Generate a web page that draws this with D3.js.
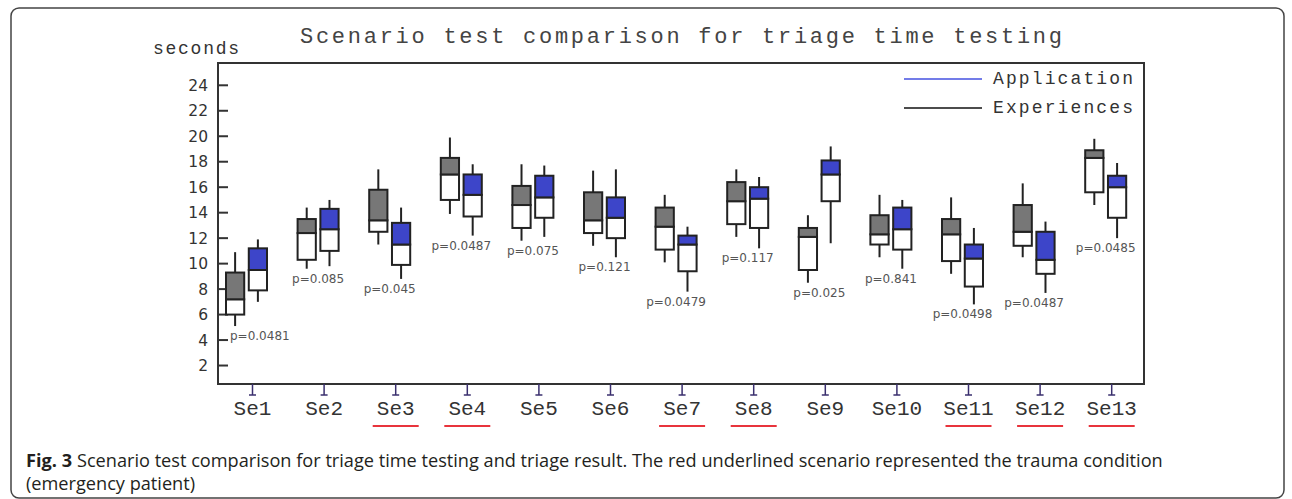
<!DOCTYPE html>
<html>
<head>
<meta charset="utf-8">
<script src="https://cdn.jsdelivr.net/npm/d3@7"></script>
<style>
  body { margin: 0; background: #fff; }
</style>
</head>
<body>
<div id="root"></div>
<script>
const w = 1292;
const h = 499;

// scenario names, trauma flag (red underline), p-values
const scenarios = ["Se1", "Se2", "Se3", "Se4", "Se5", "Se6", "Se7", "Se8", "Se9", "Se10", "Se11", "Se12", "Se13"];
const trauma = [false, false, true, true, false, false, true, true, false, false, true, true, true];
const pValues = ["0.0481", "0.085", "0.045", "0.0487", "0.075", "0.121", "0.0479", "0.117", "0.025", "0.841", "0.0498", "0.0487", "0.0485"];

// [whisker low, box low, median, box high, whisker high] in seconds
const experiences = [
  [5.1, 6.0, 7.2, 9.3, 10.9],
  [9.6, 10.3, 12.4, 13.5, 14.4],
  [11.5, 12.5, 13.4, 15.8, 17.4],
  [13.9, 15.0, 17.0, 18.3, 19.9],
  [11.8, 12.8, 14.6, 16.1, 17.8],
  [11.4, 12.4, 13.4, 15.6, 17.3],
  [10.1, 11.1, 12.9, 14.4, 15.4],
  [12.1, 13.1, 14.9, 16.4, 17.4],
  [8.5, 9.5, 12.1, 12.8, 13.8],
  [10.5, 11.5, 12.3, 13.8, 15.4],
  [9.2, 10.2, 12.3, 13.5, 15.2],
  [10.5, 11.4, 12.5, 14.6, 16.3],
  [14.6, 15.6, 18.3, 18.9, 19.8],
];
const application = [
  [7.0, 7.9, 9.5, 11.2, 11.9],
  [9.8, 11.0, 12.7, 14.3, 15.0],
  [8.8, 9.9, 11.5, 13.2, 14.4],
  [12.2, 13.7, 15.4, 17.0, 17.8],
  [12.1, 13.6, 15.2, 16.9, 17.7],
  [10.5, 12.0, 13.6, 15.2, 17.4],
  [7.8, 9.4, 11.5, 12.2, 12.9],
  [11.2, 12.8, 15.1, 16.0, 16.8],
  [11.6, 14.9, 17.0, 18.1, 19.2],
  [9.6, 11.1, 12.7, 14.4, 15.0],
  [6.8, 8.2, 10.4, 11.5, 12.8],
  [7.7, 9.2, 10.3, 12.5, 13.3],
  [12.0, 13.6, 16.0, 16.9, 17.9],
];
const yTicks = [2, 4, 6, 8, 10, 12, 14, 16, 18, 20, 22, 24];

const plotLeft = 218;
const plotRight = 1144;
const plotTop = 63;
const plotBottom = 384;

const mono = "'Courier New', 'Liberation Mono', monospace";
const sans = "'DejaVu Sans', Verdana, sans-serif";
const capFont = "'Open Sans', 'Noto Sans', sans-serif";

const svg = d3
  .select("#root")
  .append("svg")
  .attr("width", w)
  .attr("height", h);

svg
  .append("rect")
  .attr("x", 11)
  .attr("y", 8)
  .attr("width", 1273)
  .attr("height", 490)
  .attr("rx", 8)
  .attr("fill", "#fff")
  .attr("stroke", "#444")
  .attr("stroke-width", 1.5);

const yScale = d3.scaleLinear().domain([0.55, 25.75]).range([plotBottom, plotTop]);
const xScale = d3.scalePoint().domain(scenarios).range([252.5, 1111.7]);
const groupScale = d3
  .scaleBand()
  .domain(["Experiences", "Application"])
  .range([-26.5, 14.5])
  .paddingInner(0.2);
const boxW = groupScale.bandwidth();

// title and unit
svg
  .append("text")
  .attr("x", 681)
  .attr("y", 43)
  .attr("text-anchor", "middle")
  .attr("font-family", mono)
  .attr("font-size", 22)
  .attr("fill", "#444")
  .attr("textLength", 762)
  .attr("lengthAdjust", "spacing")
  .text("Scenario test comparison for triage time testing");

svg
  .append("text")
  .attr("x", 153)
  .attr("y", 54)
  .attr("font-family", mono)
  .attr("font-size", 18)
  .attr("fill", "#333")
  .attr("textLength", 86)
  .attr("lengthAdjust", "spacing")
  .text("seconds");

// plot frame
svg
  .append("rect")
  .attr("x", plotLeft)
  .attr("y", plotTop)
  .attr("width", plotRight - plotLeft)
  .attr("height", plotBottom - plotTop)
  .attr("fill", "none")
  .attr("stroke", "#333")
  .attr("stroke-width", 2);

// y axis
const yAxis = svg.append("g").attr("id", "y-axis");
yAxis
  .selectAll("line")
  .data(yTicks)
  .join("line")
  .attr("x1", plotLeft)
  .attr("x2", plotLeft + 10)
  .attr("y1", (d) => yScale(d))
  .attr("y2", (d) => yScale(d))
  .attr("stroke", "#333")
  .attr("stroke-width", 2);
yAxis
  .selectAll("text")
  .data(yTicks)
  .join("text")
  .attr("x", 208)
  .attr("y", (d) => yScale(d))
  .attr("dy", "0.36em")
  .attr("text-anchor", "end")
  .attr("font-family", sans)
  .attr("font-size", 15.5)
  .attr("fill", "#333")
  .text((d) => d);

// x axis
const xAxis = svg.append("g").attr("id", "x-axis");
const xt = xAxis
  .selectAll("g")
  .data(scenarios)
  .join("g")
  .attr("transform", (d) => `translate(${xScale(d)},${plotBottom})`);
xt.append("line")
  .attr("y1", 0)
  .attr("y2", 11)
  .attr("stroke", "#3a2f6e")
  .attr("stroke-width", 1.5);
xt.append("line")
  .attr("x1", -3.5)
  .attr("x2", 3.5)
  .attr("y1", 11)
  .attr("y2", 11)
  .attr("stroke", "#3a2f6e")
  .attr("stroke-width", 1.5);
xt.append("text")
  .attr("y", 31)
  .attr("text-anchor", "middle")
  .attr("font-family", mono)
  .attr("font-size", 21)
  .attr("fill", "#333")
  .text((d) => d);
xt.filter((d, i) => trauma[i])
  .append("line")
  .attr("x1", -23)
  .attr("x2", 23)
  .attr("y1", 42)
  .attr("y2", 42)
  .attr("stroke", "#e8343c")
  .attr("stroke-width", 2);

// boxes
function drawBoxes(data, group, fill) {
  const g = svg
    .append("g")
    .selectAll("g")
    .data(data)
    .join("g")
    .attr("transform", (d, i) => `translate(${xScale(scenarios[i]) + groupScale(group)},0)`);

  g.append("line")
    .attr("x1", boxW / 2)
    .attr("x2", boxW / 2)
    .attr("y1", (d) => yScale(d[0]))
    .attr("y2", (d) => yScale(d[4]))
    .attr("stroke", "#222")
    .attr("stroke-width", 2);
  g.append("rect")
    .attr("width", boxW)
    .attr("y", (d) => yScale(d[2]))
    .attr("height", (d) => yScale(d[1]) - yScale(d[2]))
    .attr("fill", "#fff")
    .attr("stroke", "#222")
    .attr("stroke-width", 2);
  g.append("rect")
    .attr("width", boxW)
    .attr("y", (d) => yScale(d[3]))
    .attr("height", (d) => yScale(d[2]) - yScale(d[3]))
    .attr("fill", fill)
    .attr("stroke", "#222")
    .attr("stroke-width", 2);
}

drawBoxes(experiences, "Experiences", "#777");
drawBoxes(application, "Application", "#3d45c9");

// p-values under each pair, kept clear of the y-axis ticks
svg
  .append("g")
  .selectAll("text")
  .data(pValues)
  .join("text")
  .attr("x", (d, i) => xScale(scenarios[i]) - 6)
  .attr("y", (d, i) => yScale(Math.min(experiences[i][0], application[i][0])) + 14)
  .attr("text-anchor", "middle")
  .attr("font-family", sans)
  .attr("font-size", 12)
  .attr("fill", "#555")
  .text((d) => `p=${d}`)
  .each(function () {
    const t = d3.select(this);
    const half = this.getComputedTextLength() / 2;
    const x = +t.attr("x");
    if (x - half < plotLeft + 12) t.attr("x", plotLeft + 12 + half);
  });

// legend
const legend = svg.append("g").attr("transform", "translate(904,79)");
const legendItems = [
  { name: "Application", color: "#4450e0" },
  { name: "Experiences", color: "#111" },
];
const li = legend
  .selectAll("g")
  .data(legendItems)
  .join("g")
  .attr("transform", (d, i) => `translate(0,${i * 29})`);
li.append("line")
  .attr("x1", 0)
  .attr("x2", 78)
  .attr("stroke", (d) => d.color)
  .attr("stroke-width", 1.5);
li.append("text")
  .attr("x", 89)
  .attr("y", 5)
  .attr("font-family", mono)
  .attr("font-size", 18)
  .attr("fill", "#333")
  .attr("textLength", 140)
  .attr("lengthAdjust", "spacing")
  .text((d) => d.name);

// caption: bold figure number, then the text, fitted to the figure width
const capSize = 16;
const capBold = svg
  .append("text")
  .attr("x", 26)
  .attr("y", 466.5)
  .attr("font-family", capFont)
  .attr("font-size", capSize)
  .attr("font-weight", "bold")
  .attr("fill", "#231f20")
  .text("Fig. 3");
const capRest = svg
  .append("text")
  .attr("y", 466.5)
  .attr("font-family", capFont)
  .attr("font-size", capSize)
  .attr("fill", "#231f20")
  .text("Scenario test comparison for triage time testing and triage result. The red underlined scenario represented the trauma condition");
const cap2 = svg
  .append("text")
  .attr("x", 26)
  .attr("y", 489.5)
  .attr("font-family", capFont)
  .attr("font-size", capSize)
  .attr("fill", "#231f20")
  .text("(emergency patient)");

const gap = capSize * 0.27;
const total =
  capBold.node().getComputedTextLength() + gap + capRest.node().getComputedTextLength();
const k = 1137 / total;
capBold.attr("font-size", capSize * k);
capRest.attr("font-size", capSize * k);
cap2.attr("font-size", capSize * k);
capRest.attr("x", 26 + capBold.node().getComputedTextLength() + gap * k);
</script>
</body>
</html>
